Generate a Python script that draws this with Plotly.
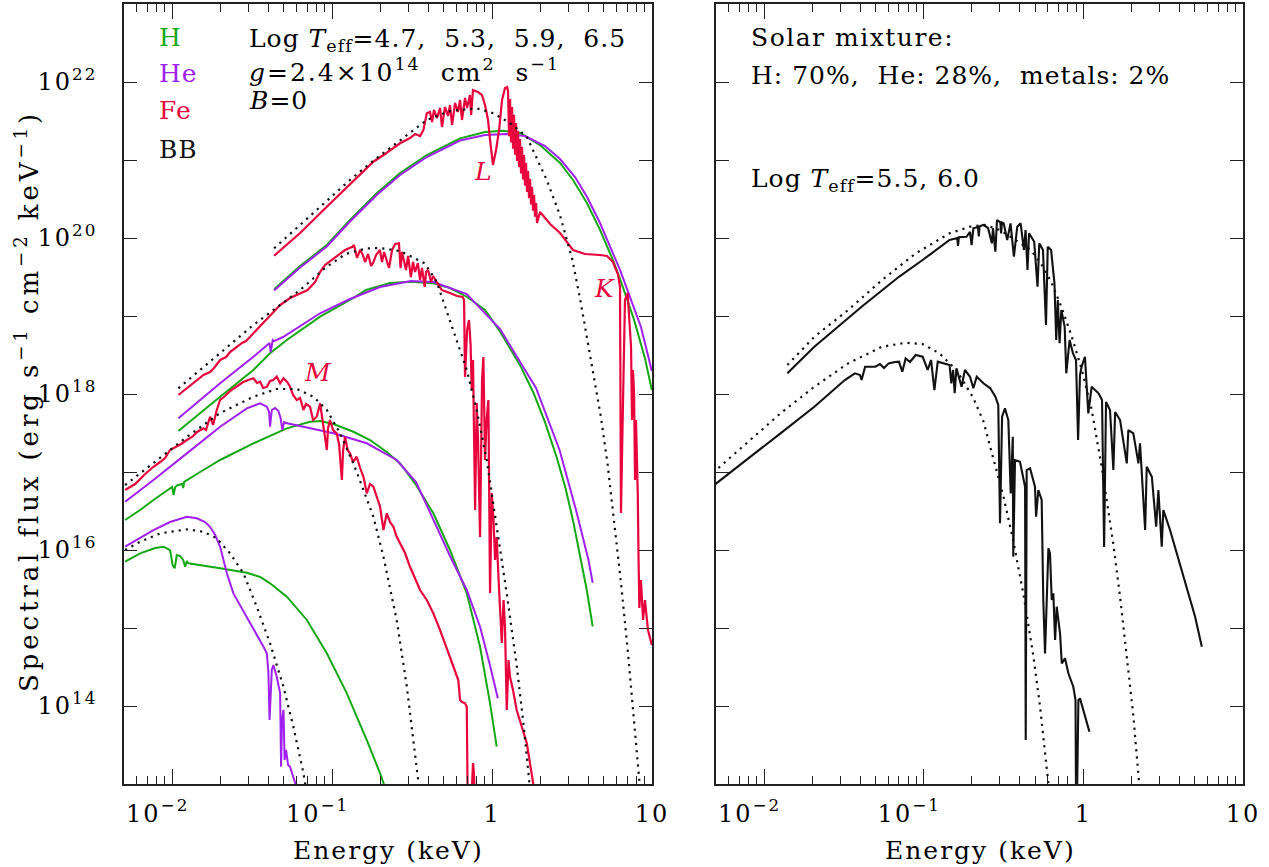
import math
import plotly.graph_objects as go

# ------------------------------------------------------------------
# Data: (log10 E [keV], log10 F [erg s^-1 cm^-2 keV^-1])
# ------------------------------------------------------------------
# ---- Log Teff = 6.5 ----
h_65 = [(-1.3625,19.342),(-1.2,19.641),(-1.033,19.910),(-0.888,20.231),(-0.721,20.573),(-0.575,20.833),
        (-0.408,21.064),(-0.2,21.278),(-0.044,21.359),(0.071,21.375),(0.175,21.346),(0.3,21.192),(0.425,20.962),
        (0.506,20.744),(0.594,20.445),(0.675,20.105),(0.756,19.716),(0.8,19.478),(0.888,18.950),(0.956,18.460),
        (0.999,18.052)]
he_65 = [(-1.3625,19.327),(-1.2,19.622),(-1.033,19.891),(-0.888,20.212),(-0.721,20.551),(-0.575,20.808),
         (-0.408,21.038),(-0.2,21.250),(-0.044,21.321),(0.092,21.333),(0.206,21.307),(0.331,21.179),(0.425,21.013),
         (0.519,20.782),(0.594,20.526),(0.675,20.192),(0.8,19.590),(0.931,18.859),(0.999,18.295)]
fe_65 = [(-1.3625,19.773),(-1.2,20.064),(-1.033,20.401),(-0.888,20.692),(-0.742,20.978),(-0.669,21.077),
         (-0.575,21.214),(-0.513,21.282),(-0.481,21.333),(-0.45,21.307),(-0.429,21.385),(-0.408,21.599),
         (-0.388,21.615),(-0.375,21.487),(-0.363,21.641),(-0.344,21.538),(-0.325,21.667),(-0.313,21.423),
         (-0.294,21.679),(-0.275,21.564),(-0.263,21.705),(-0.25,21.449),(-0.231,21.731),(-0.213,21.615),
         (-0.2,21.769),(-0.188,21.513),(-0.169,21.795),(-0.156,21.667),(-0.138,21.833),(-0.131,21.577),
         (-0.119,21.897),(-0.088,21.872),(-0.063,21.833),(-0.044,21.705),(-0.025,21.513),(-0.0125,21.256),
         (0.006,20.936),(0.025,21.128),(0.044,21.385),(0.0625,21.769),(0.081,21.923),(0.094,21.936),
         (0.1,21.885),(0.10625,21.305),(0.1125,21.782),(0.11875,21.226),(0.125,21.679),(0.13125,21.146),
         (0.1375,21.577),(0.14375,21.067),(0.15,21.474),(0.15625,20.987),(0.1625,21.372),(0.16875,20.908),
         (0.175,21.269),(0.18125,20.828),(0.1875,21.167),(0.19375,20.749),(0.2,21.064),(0.20625,20.669),
         (0.2125,20.962),(0.21875,20.590),(0.225,20.859),(0.23125,20.510),(0.2375,20.756),(0.24375,20.431),
         (0.25,20.654),(0.25625,20.351),(0.2625,20.551),(0.26875,20.272),(0.275,20.449),(0.28125,20.192),
         (0.3,20.333),(0.363,20.179),(0.425,20.064),(0.506,19.846),
         (0.581,19.795),(0.675,19.782),(0.719,19.769),(0.756,19.692),(0.788,19.526),(0.8,19.372),
         (0.806,16.474),(0.819,17.923),(0.831,19.205),(0.8475,19.295),(0.856,18.949),(0.869,18.603),
         (0.875,17.667),(0.881,18.308),(0.888,18.0),(0.894,16.897),(0.9,17.667),(0.911,16.718),
         (0.916,15.872),(0.921,15.256),(0.931,15.615),(0.944,15.103),(0.956,15.359),(0.975,14.974),
         (0.999,14.782)]
bb_65 = [(-1.3625,19.868),(-1.2,20.167),(-1.033,20.465),(-0.888,20.744),(-0.763,20.958),(-0.575,21.256),
         (-0.408,21.513),(-0.263,21.628),(-0.096,21.663),(0.008,21.599),(0.1125,21.474),(0.217,21.299),
         (0.342,20.744),(0.425,20.29),(0.5025,19.72),(0.555,19.17),(0.6175,18.45),(0.681,17.70),
         (0.7225,17.10),(0.764,16.35),(0.806,15.58),(0.8475,14.73),(0.889,13.80),(0.925,12.95)]

# ---- Log Teff = 5.9 ----
h_59 = [(-1.961,17.526),(-1.804,17.795),(-1.7,17.965),(-1.492,18.308),(-1.388,18.522),(-1.283,18.692),
        (-1.075,18.991),(-0.888,19.205),(-0.788,19.333),(-0.638,19.423),(-0.5075,19.440),(-0.367,19.419),
        (-0.263,19.359),(-0.158,19.247),(-0.044,19.077),(0.05,18.80),(0.175,18.37),(0.258,18.02),
        (0.331,17.64),(0.404,17.19),(0.461,16.78),(0.508,16.36),(0.55,15.94),(0.592,15.49),(0.629,15.02)]
he_59 = [(-1.961,17.688),(-1.825,17.923),(-1.7,18.137),(-1.492,18.478),(-1.408,18.628),(-1.391,18.654),
         (-1.384,18.538),(-1.378,18.628),(-1.371,18.692),(-1.3625,18.679),(-1.304,18.734),(-1.075,19.035),
         (-0.888,19.218),(-0.7,19.372),(-0.5075,19.449),(-0.367,19.436),(-0.158,19.282),(0.05,18.833),
         (0.275,18.077),(0.422,17.282),(0.525,16.513),(0.603,15.872),(0.629,15.580)]
fe_59 = [(-1.961,17.987),(-1.888,18.103),(-1.804,18.244),(-1.763,18.282),(-1.738,18.333),(-1.7,18.436),
         (-1.663,18.474),(-1.638,18.538),(-1.596,18.606),(-1.563,18.654),(-1.538,18.679),(-1.492,18.778),
         (-1.45,18.859),(-1.408,18.949),(-1.369,19.035),(-1.325,19.141),(-1.263,19.231),(-1.2,19.295),
         (-1.153,19.333),(-1.106,19.436),(-1.075,19.564),(-1.044,19.654),(-1.003,19.718),(-0.963,19.782),
         (-0.919,19.846),(-0.873,19.888),(-0.863,19.910),(-0.844,19.744),(-0.825,19.846),(-0.809,19.789),
         (-0.794,19.692),(-0.775,19.795),(-0.756,19.641),(-0.744,19.679),(-0.725,19.782),(-0.701,19.846),
         (-0.688,19.692),(-0.675,19.821),(-0.658,19.718),(-0.644,19.615),(-0.625,19.846),(-0.606,19.923),
         (-0.582,19.932),(-0.572,19.615),(-0.563,19.821),(-0.55,19.718),(-0.538,19.590),(-0.525,19.769),
         (-0.5075,19.500),(-0.494,19.692),(-0.481,19.564),(-0.464,19.679),(-0.45,19.462),(-0.438,19.615),
         (-0.421,19.372),(-0.4125,19.564),(-0.4,19.590),(-0.381,19.436),(-0.369,19.513),(-0.346,19.436),
         (-0.314,19.333),(-0.263,19.295),(-0.219,19.256),(-0.184,19.244),(-0.175,19.205),(-0.169,18.218),
         (-0.156,18.821),(-0.144,18.949),(-0.134,18.628),(-0.127,18.051),(-0.119,18.436),(-0.106,16.513),
         (-0.096,17.885),(-0.0875,17.410),(-0.075,16.167),(-0.0625,18.180),(-0.054,18.474),(-0.044,17.154),
         (-0.034,17.667),(-0.023,17.923),(-0.0125,15.449),(-0.002,16.731),(0.009,16.385),(0.019,15.872),
         (0.029,16.167),(0.041,15.615),(0.05,15.231),(0.061,14.808),(0.072,15.359),(0.081,15.013),
         (0.092,13.949),(0.103,14.590),(0.1125,14.372),(0.131,14.205),(0.154,13.949),(0.181,13.756),
         (0.217,13.526),(0.258,12.999)]
bb_59 = [(-1.961,18.073),(-1.825,18.308),(-1.7,18.522),(-1.492,18.885),(-1.367,19.077),(-1.2,19.333),
         (-1.044,19.615),(-0.916,19.795),(-0.788,19.865),(-0.7,19.872),(-0.575,19.833),(-0.421,19.676),
         (-0.346,19.436),(-0.263,18.949),(-0.158,18.308),(-0.096,17.795),(-0.033,17.154),(0.029,16.298),
         (0.092,15.44),(0.154,14.52),(0.196,13.78),(0.227,13.15),(0.24,12.88)]

# ---- Log Teff = 5.3 ----
h_53 = [(-2.294,16.385),(-2.2,16.513),(-2.117,16.641),(-2.044,16.744),(-2.0,16.808),(-1.991,16.705),
        (-1.981,16.808),(-1.963,16.833),(-1.938,16.846),(-1.931,16.795),(-1.925,16.872),(-1.825,17.0),
        (-1.7,17.154),(-1.492,17.368),(-1.283,17.560),(-1.138,17.645),(-1.075,17.654),(-0.992,17.615),
        (-0.867,17.516),(-0.763,17.410),(-0.658,17.256),(-0.575,17.111),(-0.475,16.833),(-0.367,16.470),
        (-0.263,16.0),(-0.158,15.444),(-0.075,14.760),(-0.0125,14.034),(0.029,13.478)]
he_53 = [(-2.294,16.619),(-2.117,16.897),(-1.908,17.239),(-1.7,17.581),(-1.533,17.816),(-1.45,17.880),
         (-1.408,17.837),(-1.394,17.769),(-1.388,17.581),(-1.377,17.795),(-1.356,17.820),(-1.336,17.782),
         (-1.322,17.692),(-1.311,17.538),(-1.3,17.641),(-1.288,17.628),(-1.179,17.581),(-0.992,17.496),
         (-0.783,17.368),(-0.596,17.154),(-0.475,16.872),(-0.367,16.385),(-0.263,15.923),(-0.158,15.487),
         (-0.075,15.016),(-0.0125,14.52),(0.036,14.10)]
fe_53 = [(-2.294,16.769),(-2.231,16.846),(-2.169,16.974),(-2.117,17.067),(-2.075,17.128),(-2.044,17.179),
         (-2.013,17.282),(-1.975,17.320),(-1.944,17.359),(-1.908,17.410),(-1.875,17.449),(-1.844,17.513),
         (-1.804,17.560),(-1.788,17.538),(-1.763,17.709),(-1.744,17.603),(-1.721,17.795),(-1.7,17.923),
         (-1.669,17.974),(-1.638,18.038),(-1.596,18.093),(-1.556,18.154),(-1.525,18.180),(-1.492,18.201),
         (-1.469,18.141),(-1.45,18.157),(-1.431,18.077),(-1.408,18.093),(-1.388,18.167),(-1.367,18.180),
         (-1.346,18.222),(-1.325,18.137),(-1.304,18.201),(-1.281,18.154),(-1.263,18.093),(-1.244,17.987),
         (-1.221,17.923),(-1.2,17.949),(-1.179,17.795),(-1.163,17.872),(-1.138,17.837),(-1.119,17.667),
         (-1.096,17.709),(-1.075,17.880),(-1.054,17.581),(-1.033,17.282),(-1.025,17.564),(-1.013,17.667),
         (-0.994,17.538),(-0.971,17.496),(-0.956,17.346),(-0.939,16.897),(-0.931,17.282),(-0.919,17.452),
         (-0.903,17.282),(-0.888,17.239),(-0.869,17.128),(-0.846,17.196),(-0.825,17.051),(-0.804,16.939),
         (-0.783,16.726),(-0.763,16.846),(-0.742,16.811),(-0.721,16.667),(-0.7,16.555),(-0.679,16.256),
         (-0.658,16.470),(-0.638,16.359),(-0.617,16.298),(-0.596,16.170),(-0.575,16.085),(-0.544,15.961),
         (-0.513,15.785),(-0.45,15.487),(-0.408,15.359),(-0.367,15.188),(-0.325,14.974),(-0.263,14.632),
         (-0.211,14.333),(-0.2,14.077),(-0.1875,14.051),(-0.169,14.034),(-0.158,13.990),(-0.153,12.9),
         (-0.1375,12.41),(-0.119,13.269),(-0.1125,13.115),(-0.103,12.282)]
bb_53 = [(-2.294,16.833),(-2.117,17.115),(-1.908,17.449),(-1.7,17.756),(-1.638,17.816),(-1.492,17.965),
         (-1.346,18.064),(-1.221,18.064),(-1.117,17.965),(-1.033,17.795),(-0.95,17.496),(-0.867,17.111),
         (-0.804,16.769),(-0.742,16.426),(-0.679,15.914),(-0.596,15.10),(-0.533,14.25),(-0.492,13.60),
         (-0.461,13.07),(-0.45,12.85)]

# ---- Log Teff = 4.7 ----
h_47 = [(-2.294,15.850),(-2.2,15.957),(-2.106,16.026),(-2.054,16.042),(-2.013,15.999),(-1.997,15.807),
        (-1.984,15.765),(-1.971,15.936),(-1.95,15.923),(-1.931,15.872),(-1.919,15.786),(-1.908,15.859),
        (-1.9,15.829),(-1.825,15.807),(-1.7,15.765),(-1.533,15.709),(-1.45,15.654),(-1.388,15.573),
        (-1.283,15.401),(-1.158,15.103),(-1.033,14.675),(-0.908,14.162),(-0.783,13.564),(-0.7,13.137),
        (-0.66,12.9)]
he_47 = [(-2.294,16.042),(-2.117,16.256),(-2.013,16.359),(-1.908,16.426),(-1.846,16.406),(-1.794,16.359),
         (-1.763,16.298),(-1.731,16.192),(-1.7,16.042),(-1.658,15.701),(-1.617,15.444),(-1.533,15.144),
         (-1.429,14.760),(-1.408,14.675),(-1.398,14.419),(-1.391,13.820),(-1.384,14.077),(-1.377,14.461),
         (-1.367,14.525),(-1.346,14.375),(-1.325,14.162),(-1.319,13.221),(-1.313,13.820),(-1.304,13.949),
         (-1.297,13.308),(-1.288,13.436),(-1.275,13.244),(-1.263,13.221),(-1.221,12.95)]
bb_47 = [(-2.294,15.999),(-2.2,16.106),(-2.075,16.213),(-1.908,16.265),(-1.804,16.234),(-1.721,16.149),
         (-1.638,15.957),(-1.554,15.701),(-1.471,15.273),(-1.388,14.803),(-1.304,14.247),(-1.242,13.734),
         (-1.179,13.137),(-1.16,12.9)]

# ---- Solar mixture (right panel) ----
sol_60 = [(-1.854,18.265),(-1.685,18.606),(-1.389,19.119),(-1.155,19.503),(-1.007,19.718),(-0.838,19.974),
          (-0.79,20.00),(-0.785,19.90),(-0.78,20.01),
          (-0.732,20.016),(-0.71,20.077),(-0.7,19.910),(-0.689,20.124),(-0.66,20.14),(-0.655,20.02),
          (-0.65,20.15),(-0.626,20.167),(-0.597,20.128),
          (-0.573,19.932),(-0.566,20.128),(-0.551,19.824),(-0.541,20.231),(-0.52,20.20),(-0.515,20.06),
          (-0.51,20.20),(-0.499,20.188),(-0.477,19.974),
          (-0.456,20.188),(-0.435,19.760),(-0.414,20.145),(-0.393,20.188),(-0.372,19.846),(-0.362,20.103),
          (-0.35,19.590),(-0.34,20.060),(-0.308,19.952),(-0.287,19.375),(-0.276,19.932),(-0.253,19.846),
          (-0.234,18.885),(-0.223,19.888),(-0.202,19.846),(-0.181,19.419),(-0.17,18.692),(-0.16,19.205),
          (-0.149,18.650),(-0.138,19.077),(-0.117,18.862),(-0.107,18.265),(-0.086,18.692),(-0.065,18.521),
          (-0.046,18.436),(-0.033,17.410),(-0.021,18.243),(-0.011,18.350),(0.010,18.478),(0.031,17.752),
          (0.052,18.093),(0.095,18.009),(0.117,17.923),(0.13,16.038),(0.142,17.897),(0.167,17.794),
          (0.188,17.026),(0.199,17.769),(0.23,17.666),(0.272,17.111),(0.282,17.538),(0.313,17.496),
          (0.345,17.111),(0.355,17.368),(0.387,16.256),(0.397,17.068),(0.429,16.939),(0.456,16.298),
          (0.47,16.769),(0.491,16.042),(0.501,16.512),(0.543,16.256),(0.585,15.957),(0.648,15.529),
          (0.7,15.144),(0.742,14.760)]
sol_55 = [(-2.32,16.82),(-2.108,17.154),(-1.897,17.496),(-1.685,17.837),(-1.494,18.179),(-1.431,18.265),
          (-1.399,18.243),(-1.389,18.179),(-1.367,18.350),(-1.303,18.350),(-1.274,18.384),(-1.249,18.333),
          (-1.219,18.393),(-1.18,18.410),(-1.155,18.414),(-1.134,18.286),(-1.113,18.457),(-1.086,18.410),
          (-1.05,18.500),(-1.007,18.478),(-0.975,18.308),(-0.954,18.436),(-0.933,18.051),(-0.912,18.414),
          (-0.88,18.393),(-0.838,18.371),(-0.827,18.137),(-0.816,18.308),(-0.806,18.009),(-0.795,18.329),
          (-0.763,18.093),(-0.742,18.308),(-0.71,18.221),(-0.689,18.073),(-0.668,18.221),(-0.626,18.137),
          (-0.583,18.073),(-0.551,17.965),(-0.533,17.859),(-0.522,16.342),(-0.509,17.709),(-0.491,17.816),
          (-0.47,17.666),(-0.455,16.726),(-0.442,17.452),(-0.439,15.914),(-0.428,17.153),(-0.397,17.132),
          (-0.365,16.811),(-0.361,13.564),(-0.355,17.025),(-0.334,17.047),(-0.303,16.811),(-0.296,16.426),
          (-0.282,16.769),(-0.261,16.641),(-0.251,15.358),(-0.24,14.675),(-0.219,16.021),(-0.209,15.957),
          (-0.198,15.358),(-0.188,15.444),(-0.177,14.846),(-0.167,15.273),(-0.146,14.931),(-0.135,14.547),
          (-0.115,14.611),(-0.094,14.419),(-0.063,14.247),(-0.049,14.077),(-0.046,12.794),(-0.039,12.922),
          (-0.031,14.076),(-0.021,14.098),(0.038,13.670)]
bb_60 = [(-1.854,18.371),(-1.685,18.734),(-1.473,19.077),(-1.261,19.461),(-1.05,19.803),(-0.838,20.060),
         (-0.71,20.145),(-0.616,20.167),(-0.522,20.102),(-0.428,19.974),(-0.329,19.846),(-0.266,19.675),
         (-0.202,19.439),(-0.138,19.119),(-0.075,18.75),(-0.011,18.32),(0.052,17.80),(0.116,17.05),
         (0.147,16.62),(0.188,16.07),(0.23,15.40),(0.272,14.67),(0.313,13.88),(0.345,13.11),(0.36,12.8)]
bb_55 = [(-2.32,16.99),(-2.108,17.367),(-1.897,17.752),(-1.685,18.093),(-1.473,18.393),(-1.261,18.606),
         (-1.113,18.657),(-1.007,18.641),(-0.901,18.521),(-0.795,18.307),(-0.689,17.948),(-0.626,17.65),
         (-0.585,17.33),(-0.501,16.69),(-0.439,16.12),(-0.376,15.44),(-0.313,14.64),(-0.271,13.99),
         (-0.229,13.19),(-0.212,12.9)]

# tick values / labels
NB = '\u00a0'
SP = '<span style="letter-spacing:2px">%s</span>'
x_major = [0.01, 0.1, 1, 10]
x_major_text = [SP % ('10<sup>\u22122</sup>' + NB * 3), SP % ('10<sup>\u22121</sup>' + NB * 3),
                SP % '1', SP % '10']
y_major = [10.0 ** k for k in range(14, 23)]
y_major_text = [SP % ('10<sup>%d</sup>' % k) if k % 2 == 0 else '' for k in range(14, 23)]

# ------------------------------------------------------------------
W, H = 1269, 867
L1, R1, L2, R2, T, B = 124, 652, 716, 1243, 4, 784
FONT = 'DejaVu Serif'
GREEN, PURPLE, RED, BLACK = '#14a814', '#a020f0', '#e8033c', '#111111'
DOT = '2.2px,5px'

fig = go.Figure()


def add(curve, color, panel, dash=None, width=2.0):
    xs = [10 ** e for e, f in curve]
    ys = [10 ** f for e, f in curve]
    line = dict(color=color, width=width)
    if dash:
        line['dash'] = dash
    xa, ya = ('x', 'y') if panel == 1 else ('x2', 'y2')
    fig.add_trace(go.Scatter(x=xs, y=ys, mode='lines', line=line, xaxis=xa, yaxis=ya,
                             hoverinfo='skip', showlegend=False))


for h, he in [(h_65, he_65), (h_59, he_59), (h_53, he_53), (h_47, he_47)]:
    add(h, GREEN, 1)
    add(he, PURPLE, 1)
for fe in [fe_65, fe_59, fe_53]:
    add(fe, RED, 1, width=2.2)
for bb in [bb_65, bb_59, bb_53, bb_47]:
    add(bb, BLACK, 1, dash=DOT, width=2.2)

add(sol_60, BLACK, 2, width=2.1)
add(sol_55, BLACK, 2, width=2.1)
add(bb_60, BLACK, 2, dash=DOT, width=2.2)
add(bb_55, BLACK, 2, dash=DOT, width=2.2)

minor_x = [m * 10.0 ** k for k in (-3, -2, -1, 0) for m in range(2, 10)
           if 0.0051 <= m * 10.0 ** k <= 9.5]
AX = '#222222'


def xaxis(domain, anchor):
    return dict(type='log', range=[math.log10(0.005), 1.0], domain=domain, anchor=anchor,
                showgrid=False, zeroline=False, showline=True, linecolor=AX, linewidth=1.5,
                mirror='ticks', ticks='inside', ticklen=15, tickwidth=1.3, tickcolor=AX,
                tickmode='array', tickvals=x_major, ticktext=x_major_text, automargin=False,
                tickfont=dict(family=FONT, size=24, color='black'), ticklabelstandoff=7,
                minor=dict(ticks='inside', ticklen=8, tickwidth=1.1, tickcolor=AX,
                           tickmode='array', tickvals=minor_x, showgrid=False))


def yaxis(anchor, labels):
    return dict(type='log', range=[13, 23], domain=[1 - B / H, 1 - T / H], anchor=anchor,
                showgrid=False, zeroline=False, showline=True, linecolor=AX, linewidth=1.5,
                mirror='ticks', ticks='inside', ticklen=13, tickwidth=1.3, tickcolor=AX,
                tickmode='array', tickvals=y_major, ticktext=y_major_text,
                showticklabels=labels, automargin=False,
                tickfont=dict(family=FONT, size=24, color='black'), ticklabelstandoff=20)


fig.update_layout(
    width=W, height=H, autosize=False, margin=dict(l=0, r=0, t=0, b=0, pad=0),
    paper_bgcolor='white', plot_bgcolor='white', showlegend=False,
    xaxis=xaxis([L1 / W, R1 / W], 'y'),
    yaxis=yaxis('x', True),
    xaxis2=xaxis([L2 / W, R2 / W], 'y2'),
    yaxis2=yaxis('x2', False),
)


def note(text, px, py, color='black', size=25, xanchor='left', angle=0, ls=1.0):
    fig.add_annotation(text='<span style="letter-spacing:%.1fpx">%s</span>' % (ls, text),
                       x=px / W, y=1 - py / H, xref='paper', yref='paper',
                       showarrow=False, xanchor=xanchor, yanchor='middle', textangle=angle,
                       font=dict(family=FONT, size=size, color=color))


note('H', 157, 38, GREEN)
note('He', 157, 73, PURPLE)
note('Fe', 157, 111, RED)
note('BB', 157, 149, BLACK)
note('Log' + NB + '<i>T</i><sub>eff</sub>=4.7,' + NB * 2 + '5.3,' + NB * 2 + '5.9,' + NB * 2 + '6.5', 247, 40)
note('<i>g</i>=2.4\u00d710<sup>14</sup>' + NB * 2 + 'cm<sup>2</sup>' + NB * 2 + 's<sup>\u22121</sup>', 247, 70,
     ls=2.0)
note('<i>B</i>=0', 247, 100)
note('<i>L</i>', 483, 172, RED, xanchor='center')
note('<i>K</i>', 604, 288, RED, xanchor='center')
note('<i>M</i>', 318, 372, RED, xanchor='center')

note('Solar mixture:', 749, 38, ls=1.5)
note('H: 70%,' + NB * 2 + 'He: 28%,' + NB * 2 + 'metals: 2%', 749, 75)
note('Log' + NB + '<i>T</i><sub>eff</sub>=5.5,' + NB + '6.0', 749, 180)

note('Spectral flux (erg s<sup>\u22121</sup> cm<sup>\u22122</sup> keV<sup>\u22121</sup>)',
     27, 401, size=26, xanchor='center', angle=-90, ls=3.9)
note('Energy (keV)', 388, 850, size=25, xanchor='center', ls=2.0)
note('Energy (keV)', 980, 850, size=25, xanchor='center', ls=2.0)

fig.write_html('out.html', config={'responsive': False, 'displayModeBar': False},
               post_script="document.body.style.margin='0';document.body.style.overflow='hidden';")
